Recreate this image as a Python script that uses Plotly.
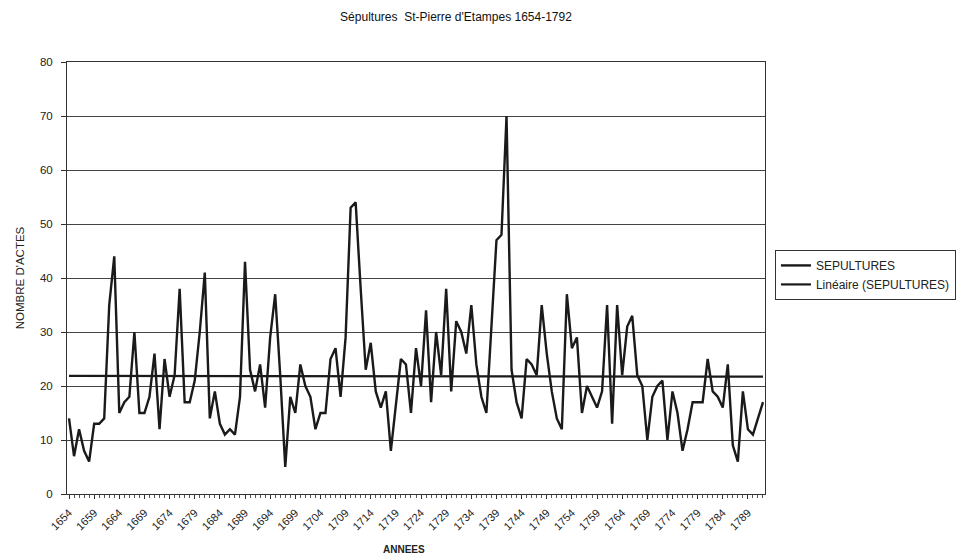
import numpy as np
import plotly.graph_objects as go

years = list(range(1654, 1793))
sepultures = [
    14, 7, 12, 8, 6, 13, 13, 14, 35, 44,
    15, 17, 18, 30, 15, 15, 18, 26, 12, 25,
    18, 22, 38, 17, 17, 21, 30, 41, 14, 19,
    13, 11, 12,
    11, 18, 43, 23, 19, 24, 16, 29, 37, 22,
    5, 18, 15, 24, 20, 18, 12, 15, 15, 25,
    27, 18, 29, 53, 54, 38, 23, 28, 19, 16,
    19, 8, 16, 25, 24, 15,
    27, 20, 34, 17, 30, 22, 38, 19, 32, 30,
    26, 35, 24, 18, 15, 31, 47, 48, 70,
    23, 17, 14, 25, 24, 22, 35, 26, 19, 14, 12, 37,
    27, 29, 15, 20, 18, 16, 19, 35, 13, 35,
    22, 31, 33, 22, 20, 10, 18, 20, 21, 10,
    19, 15, 8, 12, 17, 17, 17, 25, 19, 18,
    16, 24, 9, 6, 19, 12, 11, 14, 17,
]
tick_years = list(range(1654, 1790, 5))
tick_labels = [str(y) for y in tick_years]
y_ticks = list(range(0, 81, 10))

title_text = "Sépultures  St-Pierre d'Etampes 1654-1792"
x_title = "ANNEES"
y_title = "NOMBRE D'ACTES"
series_name = "SEPULTURES"
trend_name = "Linéaire (SEPULTURES)"

x = np.array(years, dtype=float)
yv = np.array(sepultures, dtype=float)
slope, intercept = np.polyfit(x, yv, 1)
trend = slope * x + intercept

FONT = "Liberation Sans, Arial, sans-serif"

# the page has an 8px body margin, so the figure is slightly smaller than the window
W, H = 963, 552
L, R, T, B = 55, 206, 54, 66
PW, PH = W - L - R, H - T - B

fig = go.Figure()
fig.add_trace(go.Scatter(
    x=years, y=sepultures, mode="lines", name=series_name,
    line=dict(color="#1a1a1a", width=2.4),
))
fig.add_trace(go.Scatter(
    x=years, y=trend, mode="lines", name=trend_name,
    line=dict(color="#1a1a1a", width=2.2),
))

fig.add_annotation(
    text="<b>" + x_title + "</b>", xref="paper", yref="paper",
    x=(402 - 63) / PW, y=-(549 - 494) / PH, xanchor="center", yanchor="middle",
    showarrow=False, font=dict(family=FONT, size=10, color="#222"),
)

fig.update_layout(
    width=W, height=H,
    paper_bgcolor="white", plot_bgcolor="white",
    margin=dict(l=L, r=R, t=T, b=B),
    font=dict(family=FONT, size=11, color="#222"),
    title=dict(text=title_text, x=448 / W, xanchor="center", y=1 - 9 / H, yanchor="middle",
               font=dict(family=FONT, size=12, color="#111")),
    showlegend=True,
    legend=dict(x=0.013, y=0.565, xanchor="left", yanchor="top",
                bgcolor="white", bordercolor="#333", borderwidth=1,
                font=dict(family=FONT, size=12, color="#222"),
                itemwidth=30, tracegroupgap=0),
    xaxis=dict(
        range=[1653.6, 1792.4],
        tickmode="array", tickvals=tick_years, ticktext=tick_labels,
        tickangle=-45, tickfont=dict(size=11, color="#222"),
        ticks="outside", ticklen=4, tickcolor="#333", ticklabelstandoff=3,
        minor=dict(dtick=1, tick0=1654, ticks="outside", ticklen=3, tickcolor="#555", showgrid=False),
        showgrid=False, zeroline=False,
        showline=True, linecolor="#333", linewidth=1, mirror=True,
    ),
    yaxis=dict(
        range=[0, 80], tickmode="array", tickvals=y_ticks,
        tickfont=dict(size=11.5, color="#222"),
        ticks="outside", ticklen=5, tickcolor="#333", ticklabelstandoff=6,
        showgrid=True, gridcolor="#444", gridwidth=1, zeroline=False,
        showline=True, linecolor="#333", linewidth=1, mirror=True,
        title=dict(text=y_title, font=dict(size=11.5, color="#222"), standoff=12),
    ),
)
fig.update_layout(legend=dict(x=1.0 + 10 / PW))

fig.write_html("out.html")
